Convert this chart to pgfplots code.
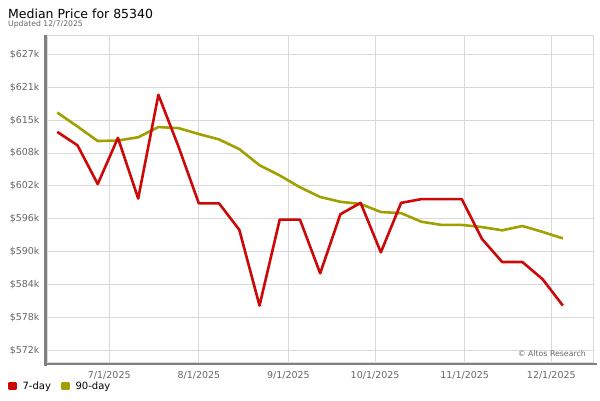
\documentclass[border=0pt]{standalone}
\usepackage{pgfplots}
\pgfplotsset{compat=1.18}
\usepackage{fontspec}
\setmainfont{DejaVu Sans}
\definecolor{sevenday}{RGB}{204,8,8}
\definecolor{ninetyday}{RGB}{160,160,0}
\definecolor{gridc}{RGB}{217,217,217}
\definecolor{axgray}{RGB}{128,128,128}
\definecolor{lblgray}{RGB}{102,102,102}
\begin{document}
\begin{tikzpicture}[x=1pt,y=1pt]
\path[use as bounding box] (0,0) rectangle (600,400);
\begin{axis}[
  at={(47pt,38pt)}, anchor=south west,
  width=546pt, height=327pt, scale only axis,
  xmin=-21.56, xmax=167.43,
  ymin=569.81, ymax=630.62,
  xtick={0,31,62,92,123,153},
  xticklabels={7/1/2025,8/1/2025,9/1/2025,10/1/2025,11/1/2025,12/1/2025},
  ytick={572,578.111,584.222,590.333,596.444,602.556,608.667,614.778,620.889,627},
  yticklabels={\$572k,\$578k,\$584k,\$590k,\$596k,\$602k,\$608k,\$615k,\$621k,\$627k},
  grid=major,
  grid style={draw=gridc, line width=1pt},
  axis line style={draw=gridc, line width=1pt},
  major tick length=0pt,
  tick label style={font=\fontsize{9.5}{11}\selectfont, text=lblgray},
  xticklabel style={yshift=-5.5pt},
  yticklabel style={xshift=-4pt},
  /pgf/number format/assume math mode=true,
  legend style={draw=none, fill=none, at={(axis description cs:-0.0714,-0.0734)}, anchor=west,
    inner sep=0pt, outer sep=0pt, font=\fontsize{10}{11}\selectfont,
    /tikz/every even column/.append style={column sep=8pt},
    /tikz/every odd column/.append style={column sep=4pt}},
  legend columns=-1,
  reverse legend,
  legend cell align=left,
  legend image code/.code={\fill[#1] (0pt,-3pt) rectangle (6pt,3pt);},
]
\addplot[color=ninetyday, line width=2.6pt, line join=round] coordinates {
(-18,616.2) (-11,613.6) (-4,610.9) (3,611.0) (10,611.6) (17,613.5) (24,613.3) (31,612.2)
(38,611.2) (45,609.4) (52,606.4) (59,604.5) (66,602.3) (73,600.5) (80,599.6) (87,599.2)
(94,597.7) (101,597.5) (108,595.9) (115,595.3) (122,595.3) (129,594.9) (136,594.3) (143,595.1)
(150,594.0) (157,592.8)};
\addlegendentry{90-day}
\addplot[color=sevenday, line width=2.6pt, line join=round] coordinates {
(-18,612.6) (-11,610.1) (-4,602.9) (3,611.5) (10,600.2) (17,619.5) (24,609.8) (31,599.3)
(38,599.3) (45,594.4) (52,580.3) (59,596.3) (66,596.3) (73,586.3) (80,597.3) (87,599.4)
(94,590.2) (101,599.4) (108,600.1) (115,600.1) (122,600.1) (129,592.7) (136,588.4) (143,588.4)
(150,585.2) (157,580.3)};
\addlegendentry{7-day}
\end{axis}
\draw[axgray, line width=2.5pt] (45.5,365) -- (45.5,34.5);
\draw[axgray, line width=2.5pt] (44.3,36) -- (597,36);
\node[anchor=base west, inner sep=0pt, font=\fontsize{12.5}{14}\selectfont] at (8,381.7) {Median Price for 85340};
\node[anchor=base west, inner sep=0pt, font=\fontsize{7.7}{9}\selectfont, text=lblgray] at (8,373) {Updated 12/7/2025};
\node[anchor=base east, inner sep=0pt, font=\fontsize{7.8}{9}\selectfont, text=lblgray] at (586,44) {© Altos Research};
\end{tikzpicture}
\end{document}
